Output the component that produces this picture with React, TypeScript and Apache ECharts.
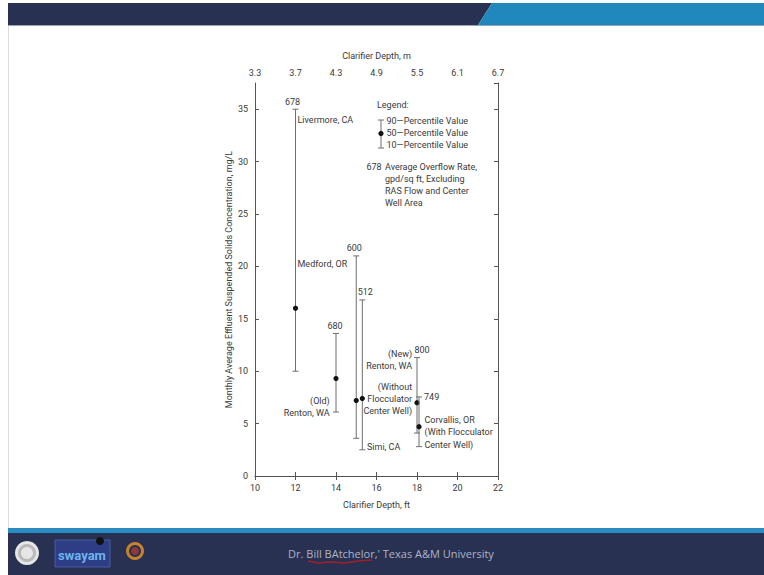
import React, { useEffect, useRef } from "react";
import * as echarts from "echarts";

// ---- Data ----
const siteNames = ["Livermore, CA", "Renton, WA (Old)", "Unlabeled", "Simi, CA", "Renton, WA (New)", "Corvallis, OR"];
const depthFt = [12, 14, 15, 15.3, 18.0, 18.1];
const p10 = [10, 6.1, 3.6, 2.5, 4.1, 2.8];
const p50 = [16, 9.3, 7.2, 7.4, 7.0, 4.7];
const p90 = [35, 13.6, 21, 16.8, 11.3, 7.55];
const overflowRate = ["678", "680", "600", "512", "800", "749"];

const bottomTicksFt = [10, 12, 14, 16, 18, 20, 22];
const topTickLabelsM = ["3.3", "3.7", "4.3", "4.9", "5.5", "6.1", "6.7"];

// annotation texts anchored in data coordinates [ft, mg/L]
const noteTexts = [
  "Livermore, CA",
  "Medford, OR",
  "(Old)\nRenton, WA",
  "Simi, CA",
  "(New)\nRenton, WA",
  "(Without\nFlocculator\nCenter Well)",
  "Corvallis, OR\n(With Flocculator\nCenter Well)",
];
const noteX = [12.1, 12.1, 13.69, 15.53, 17.76, 17.76, 18.37];
const noteY = [34.0, 20.2, 6.6, 2.74, 11.04, 7.35, 4.16];

// ---- styles ----
const FONT = "Roboto, 'Liberation Sans', Arial, sans-serif";
const FS = 9;
const TXT = "#3a3a3a";
const noteAlign = ["left", "left", "right", "left", "right", "right", "left"];
const rateDx = [-3, -1, -2, 3, 5, 5];
const rateMode = ["top", "top", "top", "top", "top", "right"];

export default function App() {
  const ref = useRef<HTMLDivElement>(null);

  useEffect(() => {
    document.body.style.margin = "0";
    if (!ref.current) return;
    const chart = echarts.init(ref.current, null, { renderer: "svg" });

    const barData = depthFt.map((x, i) => [x, p10[i], p50[i], p90[i], i]);
    const noteData = noteX.map((x, i) => [x, noteY[i], i]);

    const axisCommon = {
      type: "value",
      min: 10,
      max: 22,
      interval: 2,
      axisLine: { show: true, lineStyle: { color: "#555", width: 1 } },
      axisTick: { show: true, inside: true, length: 4, lineStyle: { color: "#555" } },
      splitLine: { show: false },
      nameLocation: "middle",
      nameTextStyle: { fontFamily: FONT, fontSize: FS, color: TXT },
    };
    const yCommon = {
      type: "value",
      min: 0,
      max: 37.5,
      interval: 5,
      axisLine: { show: true, lineStyle: { color: "#555", width: 1 } },
      axisTick: { show: true, inside: true, length: 4, lineStyle: { color: "#555" } },
      splitLine: { show: false },
    };

    const navy = "#283152";
    const blue = "#2188bd";
    const font = `${FS}px ${FONT}`;

    chart.setOption({
      animation: false,
      backgroundColor: "#ffffff",
      grid: { left: 255, right: 266, top: 83, bottom: 99, containLabel: false },
      xAxis: [
        {
          ...axisCommon,
          position: "bottom",
          name: "Clarifier Depth, ft",
          nameGap: 24,
          axisLabel: {
            margin: 7,
            fontFamily: FONT,
            fontSize: FS,
            color: TXT,
            formatter: (v: number) => (bottomTicksFt.indexOf(v) >= 0 ? String(v) : ""),
          },
        },
        {
          ...axisCommon,
          position: "top",
          name: "Clarifier Depth, m",
          nameGap: 23,
          axisLabel: {
            margin: 6,
            fontFamily: FONT,
            fontSize: FS,
            color: TXT,
            formatter: (v: number) => {
              const idx = bottomTicksFt.indexOf(v);
              return idx >= 0 ? topTickLabelsM[idx] : "";
            },
          },
        },
      ],
      yAxis: [
        {
          ...yCommon,
          position: "left",
          name: "Monthly Average Effluent Suspended Solids Concentration, mg/L",
          nameLocation: "middle",
          nameGap: 20,
          nameTextStyle: { fontFamily: FONT, fontSize: FS, color: TXT },
          axisLabel: {
            margin: 7,
            fontFamily: FONT,
            fontSize: FS,
            color: TXT,
            showMaxLabel: false,
            formatter: (v: number) => (v % 5 === 0 ? String(v) : ""),
          },
        },
        {
          ...yCommon,
          position: "right",
          axisLabel: { show: false },
        },
      ],
      series: [
        {
          type: "custom",
          name: "Percentiles",
          xAxisIndex: 0,
          yAxisIndex: 0,
          data: barData,
          clip: false,
          renderItem: (params: any, api: any) => {
            const x = api.value(0);
            const i = api.value(4);
            const lo = api.coord([x, api.value(1)]);
            const mid = api.coord([x, api.value(2)]);
            const hi = api.coord([x, api.value(3)]);
            const stroke = { stroke: "#6f6f6f", lineWidth: 1 };
            const mode = rateMode[i];
            const label =
              mode === "top"
                ? {
                    type: "text",
                    style: {
                      text: overflowRate[i],
                      x: hi[0] + rateDx[i],
                      y: hi[1] - 3,
                      align: "center",
                      verticalAlign: "bottom",
                      font,
                      fill: TXT,
                    },
                  }
                : {
                    type: "text",
                    style: {
                      text: overflowRate[i],
                      x: hi[0] + 5,
                      y: hi[1],
                      align: "left",
                      verticalAlign: "middle",
                      font,
                      fill: TXT,
                    },
                  };
            return {
              type: "group",
              children: [
                { type: "line", shape: { x1: lo[0], y1: lo[1], x2: hi[0], y2: hi[1] }, style: stroke },
                { type: "line", shape: { x1: lo[0] - 3, y1: lo[1], x2: lo[0] + 3, y2: lo[1] }, style: stroke },
                { type: "line", shape: { x1: hi[0] - 3, y1: hi[1], x2: hi[0] + 3, y2: hi[1] }, style: stroke },
                { type: "circle", shape: { cx: mid[0], cy: mid[1], r: 2.6 }, style: { fill: "#111" } },
                label,
              ],
            };
          },
        },
        {
          type: "custom",
          name: "Notes",
          xAxisIndex: 0,
          yAxisIndex: 0,
          data: noteData,
          clip: false,
          renderItem: (params: any, api: any) => {
            const i = api.value(2);
            const p = api.coord([api.value(0), api.value(1)]);
            return {
              type: "text",
              style: {
                text: noteTexts[i],
                x: p[0],
                y: p[1],
                align: noteAlign[i],
                verticalAlign: "middle",
                font,
                lineHeight: 12.3,
                fill: TXT,
              },
            };
          },
        },
      ],
      graphic: [
        // slide header
        { type: "polygon", shape: { points: [[8, 3], [492, 3], [478, 25], [8, 25]] }, style: { fill: navy } },
        { type: "polygon", shape: { points: [[492, 3], [764, 3], [764, 25], [478, 25]] }, style: { fill: blue } },
        { type: "rect", shape: { x: 8, y: 25, width: 756, height: 1 }, style: { fill: "#9aa3b5" } },
        { type: "rect", shape: { x: 8, y: 26, width: 1, height: 502 }, style: { fill: "#dcdcdc" } },
        // slide footer
        { type: "rect", shape: { x: 8, y: 528, width: 756, height: 5 }, style: { fill: "#2a8cc0" } },
        { type: "rect", shape: { x: 8, y: 533, width: 756, height: 42 }, style: { fill: navy } },
        { type: "circle", shape: { cx: 27, cy: 553, r: 12 }, style: { fill: "#e6e6e6" } },
        { type: "ring", shape: { cx: 27, cy: 553, r: 9, r0: 6 }, style: { fill: "#b9b9b9" } },
        { type: "rect", shape: { x: 55, y: 540, width: 55, height: 27 }, style: { fill: "#2d3e86", stroke: "#4a5aa0" } },
        { type: "text", style: { text: "swayam", x: 82, y: 555, align: "center", verticalAlign: "middle", font: `bold 13px ${FONT}`, fill: "#6fb4ee" } },
        { type: "circle", shape: { cx: 100, cy: 541, r: 4 }, style: { fill: "#111" } },
        { type: "ring", shape: { cx: 135, cy: 551, r: 9, r0: 6 }, style: { fill: "#c8822e" } },
        { type: "circle", shape: { cx: 135, cy: 551, r: 4 }, style: { fill: "#8a3a3a" } },
        {
          type: "text",
          style: {
            text: "Dr. Bill BAtchelor,' Texas A&M University",
            x: 391,
            y: 553,
            align: "center",
            verticalAlign: "middle",
            font: `11px 'Open Sans', ${FONT}`,
            fill: "#aeb3c6",
          },
        },
        {
          type: "polyline",
          shape: { points: [[308, 561], [318, 563], [330, 562], [345, 563], [358, 561], [372, 560]] },
          style: { stroke: "#a0202a", lineWidth: 1.5, fill: "none" },
        },
        // legend block
        { type: "text", style: { text: "Legend:", x: 377, y: 105, align: "left", verticalAlign: "middle", font, fill: TXT } },
        { type: "line", shape: { x1: 381, y1: 120, x2: 381, y2: 148 }, style: { stroke: "#6f6f6f", lineWidth: 1 } },
        { type: "line", shape: { x1: 378, y1: 120, x2: 384, y2: 120 }, style: { stroke: "#6f6f6f", lineWidth: 1 } },
        { type: "line", shape: { x1: 378, y1: 148, x2: 384, y2: 148 }, style: { stroke: "#6f6f6f", lineWidth: 1 } },
        { type: "circle", shape: { cx: 381, cy: 133.5, r: 2.6 }, style: { fill: "#111" } },
        { type: "text", style: { text: "90\u2014Percentile Value", x: 386.5, y: 120.7, align: "left", verticalAlign: "middle", font, fill: TXT } },
        { type: "text", style: { text: "50\u2014Percentile Value", x: 386.5, y: 132.7, align: "left", verticalAlign: "middle", font, fill: TXT } },
        { type: "text", style: { text: "10\u2014Percentile Value", x: 386.5, y: 144.5, align: "left", verticalAlign: "middle", font, fill: TXT } },
        { type: "text", style: { text: "678", x: 366.5, y: 167.3, align: "left", verticalAlign: "middle", font, fill: TXT } },
        {
          type: "text",
          style: {
            text: "Average Overflow Rate,\ngpd/sq ft, Excluding\nRAS Flow and Center\nWell Area",
            x: 385,
            y: 161.3,
            align: "left",
            verticalAlign: "top",
            lineHeight: 12,
            font,
            fill: TXT,
          },
        },
      ],
    });

    return () => chart.dispose();
  }, []);

  return <div ref={ref} style={{ width: 764, height: 575 }} />;
}
